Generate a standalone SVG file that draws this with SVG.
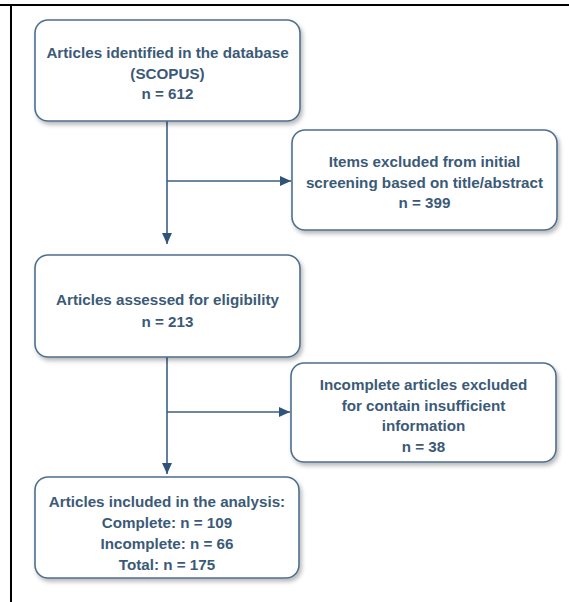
<svg xmlns="http://www.w3.org/2000/svg" width="569" height="602" viewBox="0 0 569 602">
<defs>
<style>
.box{fill:#ffffff;stroke:#4e6f8e;stroke-width:1.6;filter:url(#sh)}
.t{font-family:"Liberation Sans",Arial,sans-serif;font-weight:bold;font-size:15.2px;fill:#3b5a78;text-anchor:middle}
.c{fill:none;stroke:#3d5f82;stroke-width:1.6}
</style>
<filter id="sh" x="-10%" y="-10%" width="125%" height="135%">
<feDropShadow dx="2" dy="3" stdDeviation="2" flood-color="#000" flood-opacity="0.28"/>
</filter>
<marker id="ah" viewBox="0 0 10 10" refX="10" refY="5" markerWidth="11" markerHeight="11" markerUnits="userSpaceOnUse" orient="auto">
<path d="M0,0.5 L10,5 L0,9.5 Z" fill="#2f5479"/>
</marker>
</defs>
<rect width="569" height="602" fill="#ffffff"/>
<g id="frame">
<line x1="0" y1="5" x2="569" y2="5" stroke="#000" stroke-width="2"/>
<line x1="11" y1="4" x2="11" y2="602" stroke="#000" stroke-width="2"/>
</g>
<g id="connectors">
<path class="c" d="M167,121 V244" marker-end="url(#ah)"/>
<path class="c" d="M167,181 H291" marker-end="url(#ah)"/>
<path class="c" d="M167,357 V474" marker-end="url(#ah)"/>
<path class="c" d="M167,412 H290" marker-end="url(#ah)"/>
</g>
<g id="n1">
<rect class="box" x="35" y="20" width="265" height="101" rx="13"/>
<text class="t" x="167.5" y="58">Articles identified in the database</text>
<text class="t" x="167.5" y="78.5">(SCOPUS)</text>
<text class="t" x="167.5" y="99">n = 612</text>
</g>
<g id="n2">
<rect class="box" x="292" y="130" width="265" height="100" rx="13"/>
<text class="t" x="424.5" y="167">Items excluded from initial</text>
<text class="t" x="424.5" y="187.5">screening based on title/abstract</text>
<text class="t" x="424.5" y="208">n = 399</text>
</g>
<g id="n3">
<rect class="box" x="35" y="255" width="265" height="102" rx="13"/>
<text class="t" x="167.5" y="305">Articles assessed for eligibility</text>
<text class="t" x="167.5" y="326.5">n = 213</text>
</g>
<g id="n4">
<rect class="box" x="291" y="363" width="265" height="99" rx="13"/>
<text class="t" x="423.5" y="390">Incomplete articles excluded</text>
<text class="t" x="423.5" y="410.5">for contain insufficient</text>
<text class="t" x="423.5" y="431">information</text>
<text class="t" x="423.5" y="451.5">n = 38</text>
</g>
<g id="n5">
<rect class="box" x="35" y="477" width="264" height="101" rx="13"/>
<text class="t" x="167" y="507">Articles included in the analysis:</text>
<text class="t" x="167" y="528">Complete: n = 109</text>
<text class="t" x="167" y="549">Incomplete: n = 66</text>
<text class="t" x="167" y="569.5">Total: n = 175</text>
</g>
</svg>
